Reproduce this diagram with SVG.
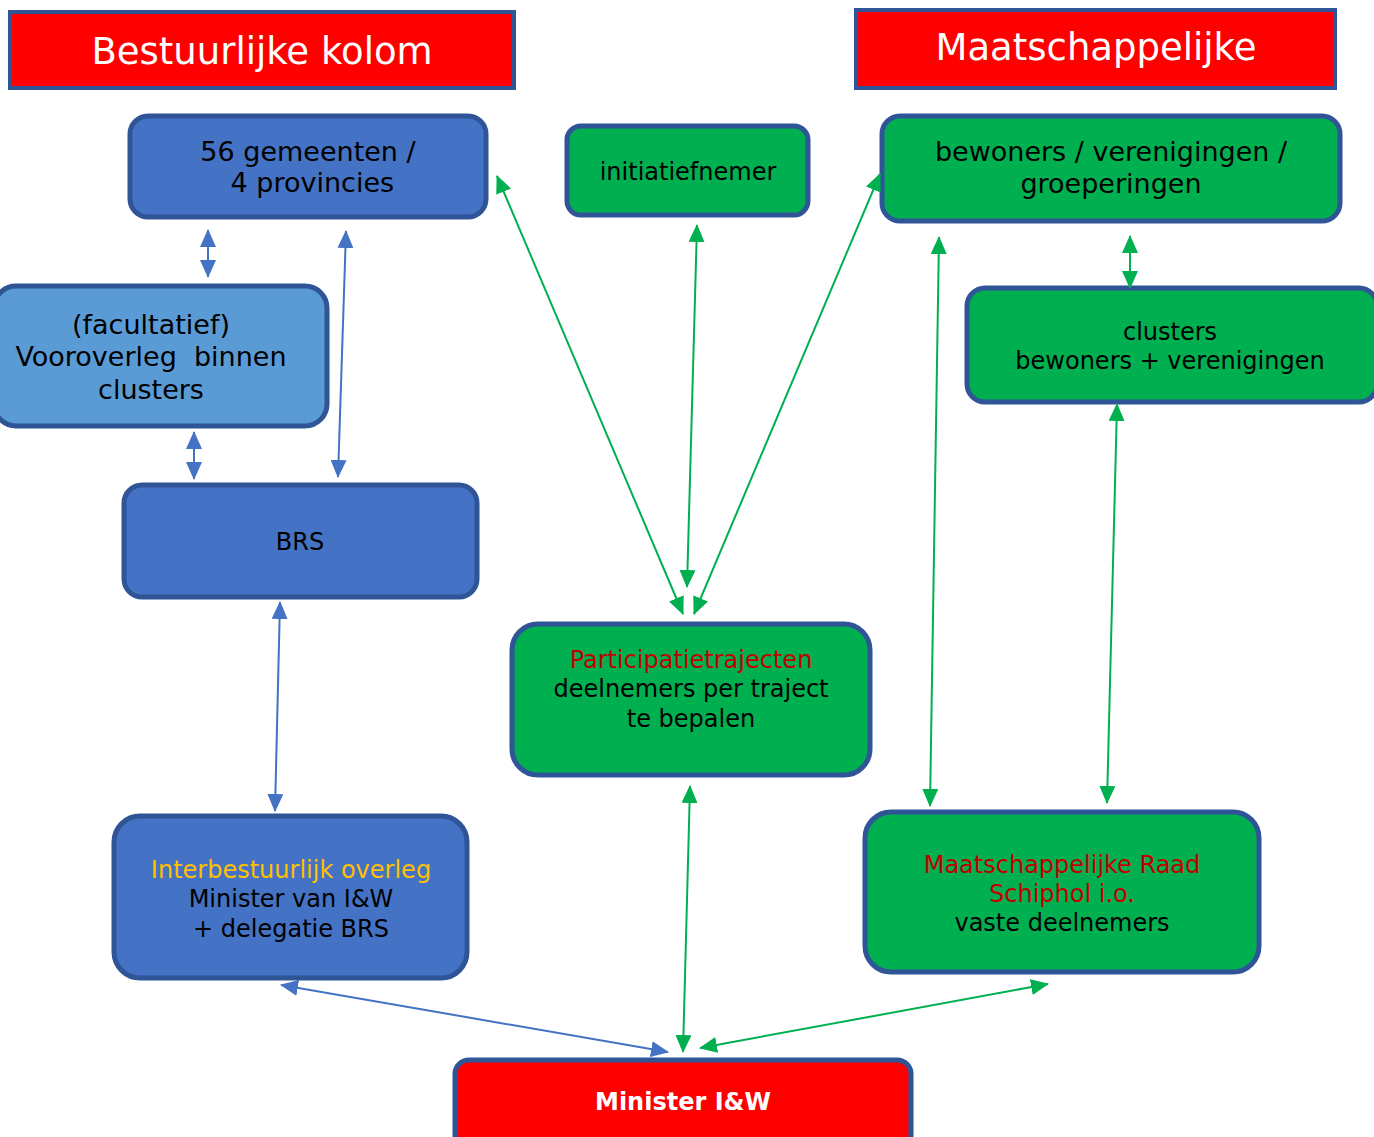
<svg xmlns="http://www.w3.org/2000/svg" width="1374" height="1137" viewBox="0 0 1374 1137">
<style>
text{font-family:"DejaVu Sans","Verdana",sans-serif;text-anchor:middle}
.hdr{fill:#FF0000;stroke:#2F5597;stroke-width:4}
.blue{fill:#4472C4;stroke:#2F5597;stroke-width:5}
.lblue{fill:#5B9BD5;stroke:#2F5597;stroke-width:5}
.green{fill:#00B050;stroke:#2F5597;stroke-width:5}
.red{fill:#FF0000;stroke:#2F5597;stroke-width:5}
.t{fill:#000;font-size:24px}
.big{font-size:27px}
.rd{fill:#C00000}
.w{fill:#fff;font-size:37px}
.cb{stroke:#4472C4;stroke-width:2;fill:none}
.cg{stroke:#00B050;stroke-width:2;fill:none}
</style>
<defs>
<marker id="ab" markerUnits="userSpaceOnUse" markerWidth="18" markerHeight="16" refX="17" refY="8" orient="auto-start-reverse"><path d="M0,0 L18,8 L0,16 z" fill="#4472C4"/></marker>
<marker id="ag" markerUnits="userSpaceOnUse" markerWidth="18" markerHeight="16" refX="17" refY="8" orient="auto-start-reverse"><path d="M0,0 L18,8 L0,16 z" fill="#00B050"/></marker>
</defs>
<rect width="1374" height="1137" fill="#fff"/>
<g id="hdr-bestuurlijk"><rect class="hdr" x="10" y="12" width="504" height="76"/><text class="w" x="262" y="64">Bestuurlijke kolom</text></g>
<g id="hdr-maatschappelijk"><rect class="hdr" x="856" y="10" width="479" height="78"/><text class="w" x="1096" y="60">Maatschappelijke</text></g>
<g id="gemeenten"><rect class="blue" x="130" y="116" width="356" height="101" rx="18"/><text class="t big" x="308" y="161">56 gemeenten /</text><text class="t big" x="308" y="192" xml:space="preserve"> 4 provincies</text></g>
<g id="initiatiefnemer"><rect class="green" x="567" y="126" width="241" height="89" rx="14"/><text class="t" x="688" y="180">initiatiefnemer</text></g>
<g id="bewoners"><rect class="green" x="882" y="116" width="458" height="105" rx="18"/><text class="t big" x="1111" y="161">bewoners / verenigingen /</text><text class="t big" x="1111" y="193">groeperingen</text></g>
<g id="vooroverleg"><rect class="lblue" x="-6" y="286" width="333" height="140" rx="22"/><text class="t big" x="151" y="334">(facultatief)</text><text class="t big" x="151" y="366" xml:space="preserve">Vooroverleg  binnen</text><text class="t big" x="151" y="399">clusters</text></g>
<g id="clusters"><rect class="green" x="967" y="288" width="410" height="114" rx="18"/><text class="t" x="1170" y="340">clusters</text><text class="t" x="1170" y="369">bewoners + verenigingen</text></g>
<g id="brs"><rect class="blue" x="124" y="485" width="353" height="112" rx="18"/><text class="t" x="300" y="550">BRS</text></g>
<g id="participatie"><rect class="green" x="512" y="624" width="358" height="151" rx="26"/><text class="t rd" x="691" y="668">Participatietrajecten</text><text class="t" x="691" y="697">deelnemers per traject</text><text class="t" x="691" y="727">te bepalen</text></g>
<g id="interbestuurlijk"><rect class="blue" x="114" y="816" width="353" height="162" rx="26"/><text class="t" x="291" y="878" style="fill:#FFC000">Interbestuurlijk overleg</text><text class="t" x="291" y="907">Minister van I&amp;W</text><text class="t" x="291" y="937">+ delegatie BRS</text></g>
<g id="msr"><rect class="green" x="865" y="812" width="394" height="160" rx="26"/><text class="t rd" x="1062" y="873">Maatschappelijke Raad</text><text class="t rd" x="1062" y="902">Schiphol i.o.</text><text class="t" x="1062" y="931">vaste deelnemers</text></g>
<g id="minister"><rect class="red" x="455" y="1060" width="456" height="90" rx="14"/><text x="683" y="1110" style="fill:#fff;font-size:24px;font-weight:bold">Minister I&amp;W</text></g>
<g id="connectors">
<line class="cb" x1="208" y1="230" x2="208" y2="277" marker-start="url(#ab)" marker-end="url(#ab)"/>
<line class="cb" x1="346" y1="231" x2="338" y2="477" marker-start="url(#ab)" marker-end="url(#ab)"/>
<line class="cb" x1="194" y1="432" x2="194" y2="479" marker-start="url(#ab)" marker-end="url(#ab)"/>
<line class="cb" x1="280" y1="602" x2="275" y2="811" marker-start="url(#ab)" marker-end="url(#ab)"/>
<line class="cb" x1="281" y1="985" x2="668" y2="1052" marker-start="url(#ab)" marker-end="url(#ab)"/>
<line class="cg" x1="497" y1="176" x2="683" y2="614" marker-start="url(#ag)" marker-end="url(#ag)"/>
<line class="cg" x1="697" y1="225" x2="687" y2="587" marker-start="url(#ag)" marker-end="url(#ag)"/>
<line class="cg" x1="880" y1="174" x2="694" y2="614" marker-start="url(#ag)" marker-end="url(#ag)"/>
<line class="cg" x1="939" y1="237" x2="930" y2="806" marker-start="url(#ag)" marker-end="url(#ag)"/>
<line class="cg" x1="1130" y1="236" x2="1130" y2="288" marker-start="url(#ag)" marker-end="url(#ag)"/>
<line class="cg" x1="1117" y1="404" x2="1107" y2="803" marker-start="url(#ag)" marker-end="url(#ag)"/>
<line class="cg" x1="690" y1="786" x2="683" y2="1052" marker-start="url(#ag)" marker-end="url(#ag)"/>
<line class="cg" x1="1048" y1="984" x2="700" y2="1048" marker-start="url(#ag)" marker-end="url(#ag)"/>
</g>
</svg>
